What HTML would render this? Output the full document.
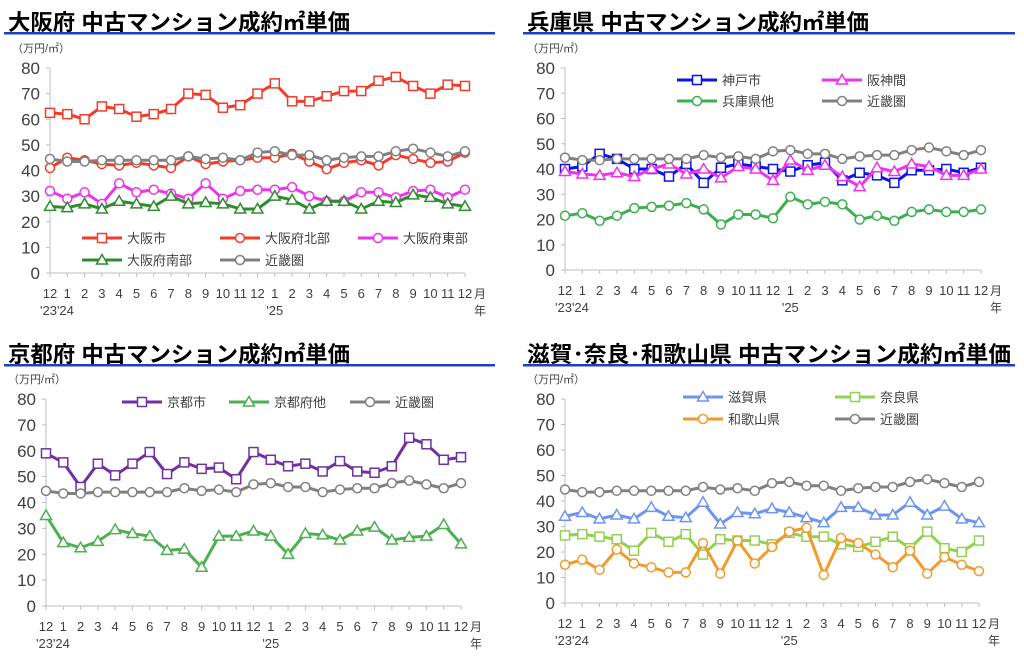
<!DOCTYPE html>
<html><head><meta charset="utf-8">
<style>
html,body{margin:0;padding:0;background:#fff;width:1024px;height:656px;overflow:hidden}
svg text{font-family:"Liberation Sans","Noto Sans CJK JP",sans-serif}
</style></head><body>
<svg id="s" width="1024" height="656" xmlns="http://www.w3.org/2000/svg"></svg>
<script>
const S=document.getElementById('s');let h='';
const K=[44.5,43.5,43.5,44,44,44,44,44,45.5,44.5,45,44,47,47.5,46,46,44,45,45.5,45.5,47.5,48.5,47,45.5,47.5];
const months=['12','1','2','3','4','5','6','7','8','9','10','11','12','1','2','3','4','5','6','7','8','9','10','11','12'];
function marker(t,x,y,c){
 if(t=='s')return `<rect x="${x-4.5}" y="${y-4.5}" width="9" height="9" fill="#fff" stroke="${c}" stroke-width="1.5"/>`;
 if(t=='c')return `<circle cx="${x}" cy="${y}" r="4.5" fill="#fff" stroke="${c}" stroke-width="1.5"/>`;
 return `<polygon points="${x},${y-5.5} ${x+5.5},${y+4} ${x-5.5},${y+4}" fill="#fff" stroke="${c}" stroke-width="1.5"/>`;
}
function panel(p){
 const {x0,x1,y80,y0,title,tx,ty,ulx,ulw,series,leg,tw}=p;
 h+=`<text x="${tx}" y="${ty}" font-size="22" font-weight="bold" fill="#000" textLength="${tw}" lengthAdjust="spacingAndGlyphs">${title}</text>`;
 h+=`<rect x="${ulx}" y="${ty+2}" width="${ulw}" height="2.5" fill="#1f3fbf"/>`;
 h+=`<text x="${x0-38}" y="${y80-16}" font-size="11" fill="#404040">（万円/㎡）</text>`;
 const yy=v=>y0-(y0-y80)*v/80, dx=(x1-x0)/24, xx=i=>x0+i*dx;
 h+=`<line x1="${x0}" y1="${y80}" x2="${x0}" y2="${y0}" stroke="#bfbfbf" stroke-width="1"/>`;
 h+=`<line x1="${x0}" y1="${y0}" x2="${x1}" y2="${y0}" stroke="#bfbfbf" stroke-width="1"/>`;
 for(let v=0;v<=80;v+=10){const y=yy(v);h+=`<line x1="${x0-4}" y1="${y}" x2="${x0}" y2="${y}" stroke="#bfbfbf"/>`;
  h+=`<text x="${x0-10}" y="${y+6}" font-size="17" text-anchor="end" fill="#404040">${v}</text>`;}
 for(let i=0;i<25;i++){h+=`<line x1="${xx(i)}" y1="${y0}" x2="${xx(i)}" y2="${y0+4}" stroke="#bfbfbf"/>`;
  h+=`<text x="${xx(i)}" y="${y0+25}" font-size="13" text-anchor="middle" fill="#404040">${months[i]}</text>`;}
 h+=`<text x="${xx(0)-10}" y="${y0+42}" font-size="13" fill="#404040">'23'24</text>`;
 h+=`<text x="${xx(13)}" y="${y0+42}" font-size="13" text-anchor="middle" fill="#404040">'25</text>`;
 h+=`<text x="${x1+9}" y="${y0+25}" font-size="12" fill="#404040">月</text>`;
 h+=`<text x="${x1+9}" y="${y0+42}" font-size="12" fill="#404040">年</text>`;
 for(const s of series){
  h+=`<polyline points="${s.d.map((v,i)=>xx(i)+','+yy(v)).join(' ')}" fill="none" stroke="${s.c}" stroke-width="3" stroke-linejoin="round"/>`;
  s.d.forEach((v,i)=>h+=marker(s.m,xx(i),yy(v),s.c));
 }
 for(const l of leg){const s=series[l[0]];
  h+=`<line x1="${l[1]}" y1="${l[2]}" x2="${l[1]+40}" y2="${l[2]}" stroke="${s.c}" stroke-width="3"/>`;
  h+=marker(s.m,l[1]+20,l[2],s.c);
  h+=`<text x="${l[1]+45}" y="${l[2]+5}" font-size="13" fill="#404040">${s.n}</text>`;}
}
const gray={n:'近畿圏',c:'#808080',m:'c',d:K};
panel({x0:50,x1:465,y80:68,y0:273,title:'大阪府 中古マンション成約㎡単価',tx:8,ty:30,tw:342,ulx:4,ulw:491,
series:[
{n:'大阪市',c:'#f03c2c',m:'s',d:[62.5,62,60,65,64,61,62,64,70,69.5,64.5,65.5,70,74,67,67,69,71,71,75,76.5,73,70,73.5,73]},
{n:'大阪府北部',c:'#f03c2c',m:'c',d:[41,45,44,42.5,42,43,42,41,45.5,42.5,43.5,44,45,45,46.5,43.5,40.5,43,44,42,46,44.5,43,43.5,47]},
{n:'大阪府東部',c:'#ee33ee',m:'c',d:[32,29,31.5,27,35,31.5,32.5,31,29,35,29,32,32.5,32.5,33.5,30,28,28,31.5,31.5,29.5,32,32.5,29.5,32.5]},
{n:'大阪府南部',c:'#2e8b2e',m:'t',d:[26,25.5,27,25,28,27,26,30,27,27.5,27,25,25,30,28.5,25,28,28,25,28,27.5,30.5,29.5,27,26]},
gray],
leg:[[0,82,238],[1,220,238],[2,358,238],[3,82,260],[4,220,260]]});
panel({x0:565,x1:981,y80:68,y0:270,title:'兵庫県 中古マンション成約㎡単価',tx:527,ty:30,tw:342,ulx:523,ulw:492,
series:[
{n:'神戸市',c:'#0a14e6',m:'s',d:[40,41,46,44,40,40,37,42,34.5,40.5,42,41,40,39,41.5,42.5,35.5,38.5,37.5,34.5,39.5,39.5,40,38.5,40.5]},
{n:'阪神間',c:'#ee33ee',m:'t',d:[39,38,37.5,38.5,37,40,42,38,40,36.5,41,40,35.5,43.5,39.5,41.5,37,33,40.5,39,42,41,37.5,37.5,40]},
{n:'兵庫県他',c:'#3cb050',m:'c',d:[21.5,22.5,19.5,21.5,24.5,25,25.5,26.5,24,18,22,22,20.5,29,26,27,26,20,21.5,19.5,23,24,23,23,24]},
gray],
leg:[[0,677,80],[1,822,80],[2,677,101],[3,822,101]]});
panel({x0:46,x1:461,y80:399,y0:606,title:'京都府 中古マンション成約㎡単価',tx:8,ty:362,tw:342,ulx:4,ulw:491,
series:[
{n:'京都市',c:'#7030a0',m:'s',d:[59,55.5,46,55,50.5,55,59.5,51,55.5,53,53.5,49,59.5,56.5,54,55,52,56,52,51.5,54,65,62.5,56.5,57.5]},
{n:'京都府他',c:'#4caf50',m:'t',d:[35,24.5,22.5,25,29.5,28,27,21.5,22,15,27,27,29,27,20,28,27.5,25.5,29,30.5,25.5,26.5,27,31.5,24]},
gray],
leg:[[0,122,402],[1,229,402],[2,350,402]]});
panel({x0:565,x1:979,y80:399,y0:603,title:'滋賀･奈良･和歌山県 中古マンション成約㎡単価',tx:527,ty:362,tw:484,ulx:523,ulw:492,
series:[
{n:'滋賀県',c:'#6d95f0',m:'t',d:[34,35.5,33,34.5,33,37.5,34,33.5,39.5,31,35.5,35,37,35.5,33.5,31.5,37.5,37.5,34.5,34.5,39.5,34.5,38,33,31.5]},
{n:'奈良県',c:'#92d050',m:'s',d:[26.5,27,26,25,20.5,27.5,24,27,19,25,24.5,24.5,23,27.5,26,26,23,22,24,26,21.5,28,21.5,20,24.5]},
{n:'和歌山県',c:'#f39a2c',m:'c',d:[15,17,13,21,15.5,14,12,12,23.5,11.5,24.5,15.5,22,28,29.5,11,25.5,23.5,19,14,20.5,11.5,18,15,12.5]},
gray],
leg:[[0,683,397],[1,835,397],[2,683,419],[3,835,419]]});
S.innerHTML=h;
</script>
</body></html>
